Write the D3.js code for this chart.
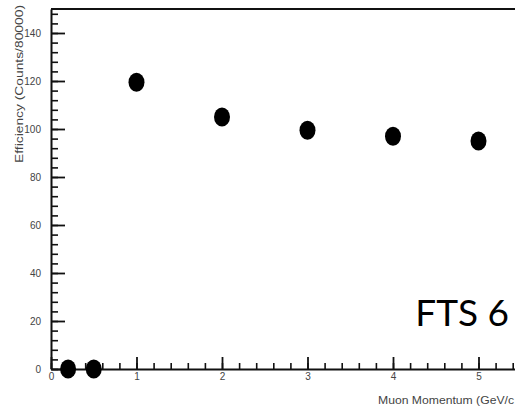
<!DOCTYPE html>
<html>
<head>
<meta charset="utf-8">
<script src="https://cdn.jsdelivr.net/npm/d3@7"></script>
<style>
body { margin: 0; background: #fff; }
svg { display: block; }
.axis text { font-family: "Liberation Sans Narrow", "Liberation Sans", Arial, sans-serif; font-size: 10px; fill: #444; }
.axis path, .axis line { stroke: #111; }
.title { font-family: "Liberation Sans", Arial, sans-serif; font-size: 11px; fill: #444; }
</style>
</head>
<body>
<div id="chart"></div>
<script>
// momentum (GeV/c) and efficiency values
var momentum = [0.2, 0.5, 1, 2, 3, 4, 5];
var efficiency = [0, 0, 119.5, 105, 99.5, 97, 95];
var xTicks = [0, 1, 2, 3, 4, 5];
var yTicks = [0, 20, 40, 60, 80, 100, 120, 140];

var width = 515, height = 406;
var svg = d3.select("#chart").append("svg")
    .attr("width", width).attr("height", height);

var x = d3.scaleLinear().domain([0, 6]).range([51, 51 + 6 * 85.5]);
var y = d3.scaleLinear().domain([0, 150]).range([369, 9]);

svg.append("defs").append("filter").attr("id", "soft")
    .append("feGaussianBlur").attr("stdDeviation", 0.7);

// frame: top line
svg.append("line")
    .attr("x1", x(0)).attr("x2", width + 5)
    .attr("y1", y(150)).attr("y2", y(150))
    .attr("stroke", "#111").attr("stroke-width", 2);

// minor ticks
svg.append("g").attr("class", "axis")
    .attr("transform", "translate(" + x(0) + ",0)")
    .call(d3.axisLeft(y).tickValues(d3.range(0, 149, 4)).tickSizeInner(-7).tickSizeOuter(0).tickFormat(""))
    .call(function (g) { g.select(".domain").remove(); })
    .selectAll("line").attr("stroke-width", 1.6);
svg.append("g").attr("class", "axis")
    .attr("transform", "translate(0," + y(0) + ")")
    .call(d3.axisBottom(x).tickValues(d3.range(0, 6.01, 0.2)).tickSizeInner(-6).tickSizeOuter(0).tickFormat(""))
    .call(function (g) { g.select(".domain").remove(); })
    .selectAll("line").attr("stroke-width", 1.6);

// major ticks + labels
var yAxis = svg.append("g").attr("class", "axis")
    .attr("transform", "translate(" + x(0) + ",0)")
    .call(d3.axisLeft(y).tickValues(yTicks).tickSizeInner(-14).tickSizeOuter(0).tickPadding(10).tickFormat(d3.format("d")));
yAxis.selectAll("line").attr("stroke-width", 1.8);
yAxis.select(".domain").attr("stroke-width", 2);

var xAxis = svg.append("g").attr("class", "axis")
    .attr("transform", "translate(0," + y(0) + ")")
    .call(d3.axisBottom(x).tickValues(xTicks).tickSizeInner(-12).tickSizeOuter(0).tickPadding(4).tickFormat(d3.format("d")));
xAxis.selectAll("line").attr("stroke-width", 1.8);
xAxis.select(".domain").attr("stroke-width", 2);

// axis titles
svg.append("text").attr("class", "title")
    .attr("transform", "translate(23,5) rotate(-90)")
    .attr("text-anchor", "end")
    .attr("textLength", 158).attr("lengthAdjust", "spacingAndGlyphs")
    .text("Efficiency (Counts/80000)");
svg.append("text").attr("class", "title")
    .attr("x", 514).attr("y", 404)
    .attr("text-anchor", "end")
    .attr("textLength", 136).attr("lengthAdjust", "spacingAndGlyphs")
    .text("Muon Momentum (GeV/c");

// points
svg.append("g").attr("filter", "url(#soft)")
    .selectAll("ellipse").data(momentum).enter().append("ellipse")
    .attr("cx", function (d) { return x(d); })
    .attr("cy", function (d, i) { return y(efficiency[i]); })
    .attr("rx", 8).attr("ry", 9.5)
    .attr("fill", "#000");

// overlay label
svg.append("text")
    .attr("x", 509).attr("y", 326)
    .attr("text-anchor", "end")
    .style("font-family", "Lato, 'Open Sans', sans-serif")
    .style("font-size", "37px").style("fill", "#000")
    .text("FTS 6");
</script>
</body>
</html>
